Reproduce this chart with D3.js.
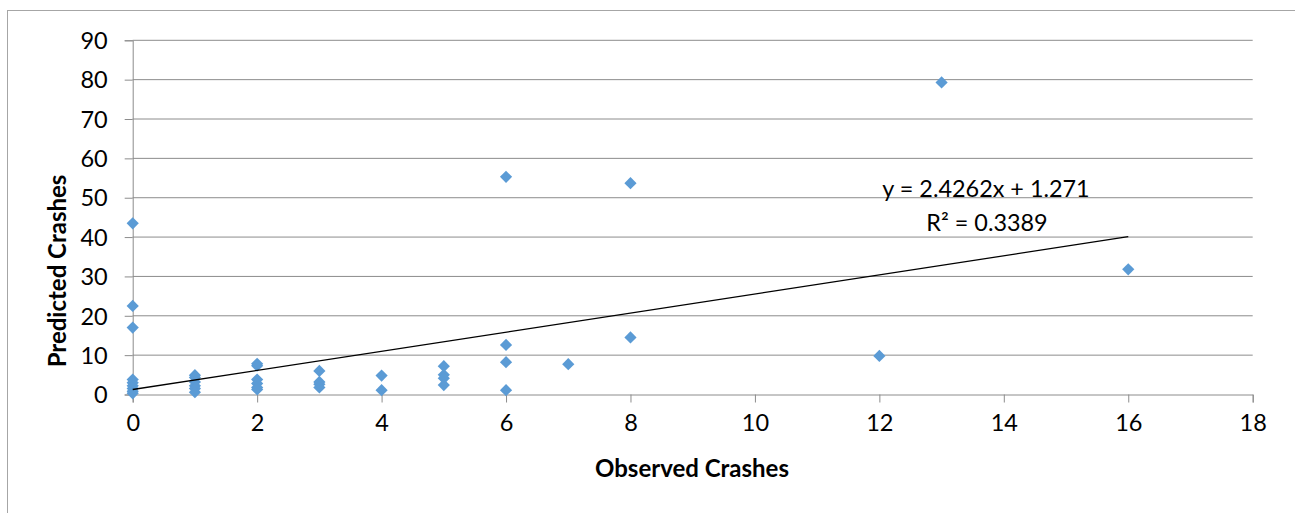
<!DOCTYPE html>
<html>
<head>
<meta charset="utf-8">
<script src="https://cdn.jsdelivr.net/npm/d3@7"></script>
<style>
html,body{margin:0;padding:0;background:#fff;}
svg{display:block;}
</style>
</head>
<body>
<svg id="chart" width="1295" height="513"></svg>
<script>
// Data
const observed  = [0,0,0,0,0,0,0,0,0, 1,1,1,1,1,1, 2,2,2,2,2,2, 3,3,3,3, 4,4, 5,5,5,5, 6,6,6,6, 7, 8,8, 12, 13, 16];
const predicted = [43.5,22.5,17,3.8,3.0,2.2,1.5,0.8,0.3, 4.9,4.3,3.2,2.2,1.5,0.6, 7.8,7.3,3.8,2.8,1.8,1.3, 6.0,3.2,2.6,1.8, 4.8,1.1, 7.2,5.0,4.1,2.4, 55.3,12.6,8.2,1.1, 7.7, 53.7,14.5, 9.8, 79.3, 31.8];
const xTicks = [0,2,4,6,8,10,12,14,16,18];
const yTicks = [0,10,20,30,40,50,60,70,80,90];
const trendSlope = 2.4262;
const trendIntercept = 1.271;
const trendRange = [0, 16];
const trendLabel1 = "y = 2.4262x + 1.271";
const trendLabel2 = "R² = 0.3389";
const xTitle = "Observed Crashes";
const yTitle = "Predicted Crashes";

const svg = d3.select("#chart");
const font = "Lato, 'Open Sans', sans-serif";
const gridColor = "#8c8c8c";

// chart area border
svg.append("rect").attr("x",7.5).attr("y",10.5).attr("width",1300).attr("height",520)
  .attr("fill","none").attr("stroke","#a6a6a6").attr("stroke-width",1);

const x = d3.scaleLinear().domain([0,18]).range([132.7,1252.7]);
const y = d3.scaleLinear().domain([0,90]).range([394.5,40.3]);

// y axis
const yAxis = d3.axisLeft(y).tickValues(yTicks).tickSize(8).tickPadding(16).tickFormat(d3.format("d"));
const gy = svg.append("g").attr("transform",`translate(${x(0)},0)`).call(yAxis);
gy.select(".domain").attr("stroke",gridColor);
gy.selectAll(".tick line").attr("stroke",gridColor);
gy.selectAll(".tick text").attr("font-family",font).attr("font-size",23.5).attr("fill","#000").attr("dy","0.35em").attr("x",-25);

// horizontal gridlines
svg.append("g").selectAll("line").data(yTicks.filter(d=>d>0)).join("line")
  .attr("x1",x(0)).attr("x2",x(18)).attr("y1",d=>y(d)).attr("y2",d=>y(d))
  .attr("stroke",gridColor).attr("stroke-width",1);

// x axis
const xAxis = d3.axisBottom(x).tickValues(xTicks).tickSize(8).tickPadding(12).tickFormat(d3.format("d"));
const gx = svg.append("g").attr("transform",`translate(0,${y(0)})`).call(xAxis);
gx.select(".domain").attr("stroke",gridColor);
gx.selectAll(".tick line").attr("stroke",gridColor);
gx.selectAll(".tick text").attr("font-family",font).attr("font-size",23.5).attr("fill","#000");

// points
const diamond = d3.symbol().type(d3.symbolDiamond2).size(95);
svg.append("g").selectAll("path").data(observed.map((o,i)=>({o,p:predicted[i]}))).join("path")
  .attr("d",diamond)
  .attr("transform",d=>`translate(${x(d.o)},${y(d.p)})`)
  .attr("fill","#5b9bd5");

// trendline
svg.append("line")
  .attr("x1",x(trendRange[0])).attr("y1",y(trendSlope*trendRange[0]+trendIntercept))
  .attr("x2",x(trendRange[1])).attr("y2",y(trendSlope*trendRange[1]+trendIntercept))
  .attr("stroke","#000").attr("stroke-width",1.3);

// trendline label
svg.append("text").attr("x",986).attr("y",197).attr("text-anchor","middle")
  .attr("font-family",font).attr("font-size",23.4).attr("fill","#000").text(trendLabel1);
svg.append("text").attr("x",987).attr("y",231).attr("text-anchor","middle")
  .attr("font-family",font).attr("font-size",23.4).attr("fill","#000").text(trendLabel2);

// axis titles
svg.append("text").attr("x",692).attr("y",477).attr("text-anchor","middle")
  .attr("font-family",font).attr("font-weight","bold").attr("font-size",24).attr("fill","#000").text(xTitle);
svg.append("text").attr("transform","translate(66,271) rotate(-90)").attr("text-anchor","middle")
  .attr("font-family",font).attr("font-weight","bold").attr("font-size",24).attr("fill","#000").text(yTitle);
</script>
</body>
</html>
